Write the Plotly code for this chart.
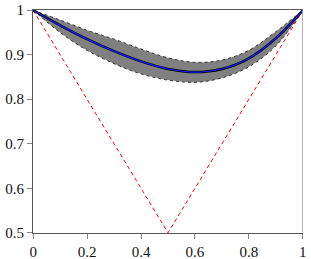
import plotly.graph_objects as go

x_vals = [0, 0.1, 0.2, 0.3, 0.4, 0.5, 0.6, 0.7, 0.8, 0.9, 1.0]
mean_vals = [1.0, 0.966, 0.935, 0.908, 0.885, 0.868, 0.861, 0.868, 0.892, 0.937, 1.0]
upper_vals = [1.0, 0.978, 0.955, 0.935, 0.913, 0.893, 0.883, 0.888, 0.910, 0.952, 1.0]
lower_vals = [1.0, 0.950, 0.910, 0.880, 0.857, 0.843, 0.838, 0.848, 0.873, 0.920, 1.0]
ref_x = [0, 0.5, 1]
ref_y = [1, 0.5, 1]
x_ticks = [0, 0.2, 0.4, 0.6, 0.8, 1]
x_ticklabels = ["0", "0.2", "0.4", "0.6", "0.8", "1"]
y_ticks = [0.5, 0.6, 0.7, 0.8, 0.9, 1]
y_ticklabels = ["0.5", "0.6", "0.7", "0.8", "0.9", "1"]

fig = go.Figure()
fig.add_trace(go.Scatter(x=x_vals, y=upper_vals, mode="lines", line=dict(color="#333", width=1, dash="dot", shape="spline"), showlegend=False))
fig.add_trace(go.Scatter(x=x_vals, y=lower_vals, mode="lines", fill="tonexty", fillcolor="#808080",
                         line=dict(color="#333", width=1, dash="dot", shape="spline"), showlegend=False))
fig.add_trace(go.Scatter(x=ref_x, y=ref_y, mode="lines", line=dict(color="red", width=1, dash="4px,3px"), showlegend=False))
fig.add_trace(go.Scatter(x=x_vals, y=mean_vals, mode="lines", line=dict(color="black", width=2.5, shape="spline"), showlegend=False))
fig.add_trace(go.Scatter(x=x_vals, y=mean_vals, mode="lines", line=dict(color="#1a1aff", width=1.2, shape="spline"), showlegend=False))

fig.add_shape(type="line", x0=1, x1=1, y0=0.5, y1=1, xref="x", yref="y", line=dict(color="#aaaaaa", width=1.5))

fig.update_layout(
    width=311, height=259,
    margin=dict(l=33, r=8, t=10, b=26, autoexpand=False),
    plot_bgcolor="white", paper_bgcolor="white",
    font=dict(family="Times New Roman", size=15, color="#111"),
)
fig.update_xaxes(range=[-0.0005, 1.0005], tickvals=x_ticks, ticktext=x_ticklabels, showgrid=False, zeroline=False,
                 automargin=False,
                 showline=True, linecolor="#555", linewidth=1.2, mirror=True, ticks="outside", ticklen=5, tickcolor="#888")
fig.update_yaxes(range=[0.4995, 1.0005], tickvals=y_ticks, ticktext=y_ticklabels, showgrid=False, zeroline=False,
                 automargin=False,
                 showline=True, linecolor="#555", linewidth=1.2, ticks="outside", ticklen=5, tickcolor="#888")
fig.write_html("out.html", config={"displayModeBar": False},
               post_script="document.body.style.margin='0';document.body.style.overflow='hidden';")
